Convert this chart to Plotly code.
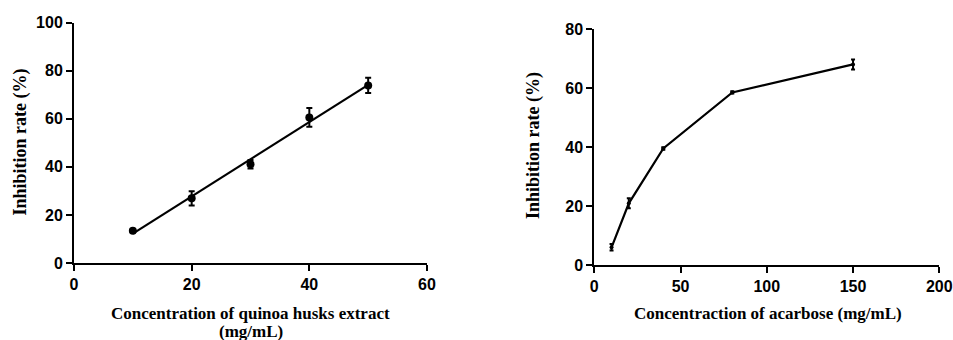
import numpy as np
import plotly.graph_objects as go

# Left panel: quinoa husks extract
quinoa_conc = [10, 20, 30, 40, 50]
quinoa_inhib = [13.4, 26.9, 41.1, 60.6, 73.9]
quinoa_err = [0.6, 3.0, 1.8, 3.9, 3.2]

# Right panel: acarbose
acarbose_conc = [10, 20, 40, 80, 150]
acarbose_inhib = [6.0, 20.9, 39.5, 58.5, 68.0]
acarbose_err = [1.1, 1.7, 0.4, 0.4, 1.7]

left_xticks = [0, 20, 40, 60]
left_yticks = [0, 20, 40, 60, 80, 100]
right_xticks = [0, 50, 100, 150, 200]
right_yticks = [0, 20, 40, 60, 80]

W, H = 953, 340

# linear regression for left panel
slope, intercept = np.polyfit(quinoa_conc, quinoa_inhib, 1)
fit_x = [min(quinoa_conc), max(quinoa_conc)]
fit_y = [slope * v + intercept for v in fit_x]

fig = go.Figure()

fig.add_trace(go.Scatter(
    x=fit_x, y=fit_y, mode="lines",
    line=dict(color="black", width=2.2),
    xaxis="x", yaxis="y", showlegend=False, hoverinfo="skip"))
fig.add_trace(go.Scatter(
    x=quinoa_conc, y=quinoa_inhib, mode="markers",
    marker=dict(color="black", size=8),
    error_y=dict(type="data", array=quinoa_err, color="black",
                 thickness=2, width=3),
    xaxis="x", yaxis="y", showlegend=False))

fig.add_trace(go.Scatter(
    x=acarbose_conc, y=acarbose_inhib, mode="lines+markers",
    line=dict(color="black", width=2.2),
    marker=dict(color="black", size=4),
    error_y=dict(type="data", array=acarbose_err, color="black",
                 thickness=2, width=2),
    xaxis="x2", yaxis="y2", showlegend=False))

tickfont = dict(family="Liberation Sans, Arial", size=16, color="black")
ax_common = dict(showgrid=False, zeroline=False, showline=True,
                 linecolor="black", linewidth=2, ticks="outside",
                 ticklen=6, tickwidth=2, tickcolor="black",
                 tickfont=tickfont, automargin=False)


def bold(vals):
    return [f"<b>{v}</b>" for v in vals]


fig.update_layout(
    width=W, height=H,
    margin=dict(l=0, r=0, t=0, b=0),
    plot_bgcolor="white", paper_bgcolor="white",
    xaxis=dict(domain=[74 / W, 427 / W], range=[0, 60],
               tickvals=left_xticks, ticktext=bold(left_xticks),
               anchor="y", **ax_common),
    yaxis=dict(domain=[77 / H, 317.3 / H], range=[0, 100],
               tickvals=left_yticks, ticktext=bold(left_yticks),
               anchor="x", **ax_common),
    xaxis2=dict(domain=[594.3 / W, 939.3 / W], range=[0, 200],
                tickvals=right_xticks, ticktext=bold(right_xticks),
                anchor="y2", **ax_common),
    yaxis2=dict(domain=[75 / H, 311 / H], range=[0, 80],
                tickvals=right_yticks, ticktext=bold(right_yticks),
                anchor="x2", **ax_common),
)

titlefont = dict(family="Liberation Serif, Times New Roman", size=17, color="black")
ytitlefont = dict(family="Liberation Serif, Times New Roman", size=18, color="black")
annos = [
    dict(text="<b>Concentration of quinoa husks extract</b>", x=251 / W, y=1 - 313 / H, font=titlefont),
    dict(text="<b>(mg/mL)</b>", x=251 / W, y=1 - 331 / H, font=titlefont),
    dict(text="<b>Concentraction of acarbose (mg/mL)</b>", x=767.5 / W, y=1 - 313 / H, font=titlefont),
    dict(text="<b>Inhibition rate (%)</b>", x=20 / W, y=1 - 142.5 / H, textangle=-90, font=ytitlefont),
    dict(text="<b>Inhibition rate (%)</b>", x=533 / W, y=1 - 146 / H, textangle=-90, font=ytitlefont),
]
for a in annos:
    fig.add_annotation(xref="paper", yref="paper", xanchor="center",
                       yanchor="middle", showarrow=False, **a)

fig.write_html("out.html", config={"displayModeBar": False},
               post_script="document.body.style.margin='0px';document.body.style.overflow='hidden';")
